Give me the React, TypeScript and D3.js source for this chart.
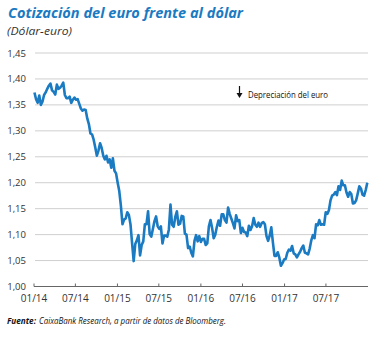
import React from "react";
import * as d3 from "d3";

// Weekly EUR/USD closes (Fridays)
const y2014 = [
  1.374, 1.361, 1.354, 1.368, 1.350,
  1.356, 1.369, 1.374, 1.381,
  1.387, 1.391, 1.378, 1.375,
  1.370, 1.389, 1.381, 1.383,
  1.387, 1.393, 1.369, 1.363, 1.363,
  1.366, 1.354, 1.360, 1.364,
  1.360, 1.361, 1.352, 1.343,
  1.339, 1.341, 1.340, 1.324, 1.313,
  1.295, 1.293, 1.283, 1.268,
  1.252, 1.262, 1.276, 1.267, 1.252,
  1.245, 1.252, 1.239, 1.245,
  1.229, 1.247, 1.223, 1.218,
];
const y2015 = [
  1.200, 1.184, 1.156, 1.120, 1.129,
  1.131, 1.143, 1.138, 1.120,
  1.084, 1.049, 1.082, 1.089,
  1.099, 1.060, 1.080, 1.087,
  1.120, 1.120, 1.145, 1.101, 1.096,
  1.111, 1.126, 1.135, 1.116,
  1.111, 1.116, 1.083, 1.098, 1.098,
  1.096, 1.110, 1.158, 1.119,
  1.115, 1.134, 1.145, 1.119,
  1.121, 1.136, 1.135, 1.102, 1.100,
  1.074, 1.077, 1.065, 1.058,
  1.088, 1.099, 1.087, 1.097,
];
const y2016 = [
  1.086, 1.092, 1.092, 1.080, 1.083,
  1.116, 1.128, 1.113, 1.093,
  1.100, 1.115, 1.127, 1.117,
  1.139, 1.139, 1.128, 1.123, 1.152,
  1.140, 1.131, 1.122, 1.112,
  1.137, 1.126, 1.128, 1.103,
  1.113, 1.105, 1.104, 1.097, 1.117,
  1.109, 1.116, 1.132, 1.119,
  1.115, 1.123, 1.115, 1.122, 1.124,
  1.120, 1.097, 1.088, 1.098,
  1.114, 1.085, 1.059, 1.059,
  1.066, 1.056, 1.040, 1.045, 1.052,
];
const y2017 = [
  1.053, 1.065, 1.071, 1.069,
  1.078, 1.064, 1.062, 1.056,
  1.062, 1.067, 1.074, 1.079, 1.065,
  1.064, 1.062, 1.073, 1.089,
  1.099, 1.093, 1.120, 1.118,
  1.128, 1.119, 1.120, 1.119, 1.143,
  1.140, 1.147, 1.166, 1.175,
  1.177, 1.182, 1.176, 1.193,
  1.186, 1.204, 1.195, 1.195, 1.181,
  1.173, 1.182, 1.178, 1.160,
  1.161, 1.166, 1.179, 1.193,
  1.189, 1.177, 1.175, 1.186, 1.200,
];
const firstWeek = "2014-01-03";

const yTicks = [1.0, 1.05, 1.1, 1.15, 1.2, 1.25, 1.3, 1.35, 1.4, 1.45];
const xTickDates = ["2014-01-01", "2014-07-01", "2015-01-01", "2015-07-01", "2016-01-01", "2016-07-01", "2017-01-01", "2017-07-01"];
const xTickLabels = ["01/14", "07/14", "01/15", "07/15", "01/16", "07/16", "01/17", "07/17"];

const BLUE = "#1a7ac2";
const TEXT = "#333333";
const FONT = "'Open Sans', 'Noto Sans', sans-serif";

export default function App() {
  const values = [...y2014, ...y2015, ...y2016, ...y2017];
  const parse = d3.timeParse("%Y-%m-%d");
  const start = parse(firstWeek) as Date;
  const data = values.map((v, i) => ({ date: d3.timeWeek.offset(start, i), value: v }));

  const x = d3
    .scaleTime()
    .domain([parse("2014-01-01") as Date, parse("2018-01-01") as Date])
    .range([34, 368]);
  const y = d3.scaleLinear().domain([1.0, 1.45]).range([286.5, 53]);

  const line = d3
    .line<{ date: Date; value: number }>()
    .x((d) => x(d.date))
    .y((d) => y(d.value))
    .curve(d3.curveLinear);

  return (
    <svg width={376} height={338} style={{ display: "block", position: "absolute", left: 0, top: 0 }}>
      <rect x={0} y={0} width={376} height={338} fill="#ffffff" />
      <text
        x={8}
        y={18}
        fontFamily={FONT}
        fontSize={15}
        fontWeight="bold"
        fontStyle="italic"
        fill={BLUE}
        textLength={235}
        lengthAdjust="spacingAndGlyphs"
      >
        Cotización del euro frente al dólar
      </text>
      <text
        x={7}
        y={35}
        fontFamily={FONT}
        fontSize={11}
        fontStyle="italic"
        fill={TEXT}
        textLength={65}
        lengthAdjust="spacingAndGlyphs"
      >
        (Dólar-euro)
      </text>

      {yTicks.map((t) => (
        <g key={t}>
          {t > 1.0 && (
            <line x1={35} x2={368} y1={y(t)} y2={y(t)} stroke="#cfcfcf" strokeWidth={1} />
          )}
          <text
            x={26}
            y={y(t) + 3.5}
            textAnchor="end"
            fontFamily={FONT}
            fontSize={9.5}
            fill={TEXT}
          >
            {d3.format(".2f")(t).replace(".", ",")}
          </text>
        </g>
      ))}

      <line x1={34} x2={368} y1={y(1.0)} y2={y(1.0)} stroke="#666666" strokeWidth={1} />
      {xTickDates.map((d, i) => {
        const xp = x(parse(d) as Date);
        return (
          <g key={d}>
            <line x1={xp} x2={xp} y1={y(1.0)} y2={y(1.0) - 3} stroke="#666666" strokeWidth={1} />
            <text
              x={xp}
              y={302}
              textAnchor="middle"
              fontFamily={FONT}
              fontSize={10}
              fill={TEXT}
            >
              {xTickLabels[i]}
            </text>
          </g>
        );
      })}

      <path d={line(data) || ""} fill="none" stroke={BLUE} strokeWidth={2.6} strokeLinejoin="round" />

      {/* annotation */}
      <line x1={239.5} x2={239.5} y1={86} y2={95} stroke="#111" strokeWidth={1.2} />
      <path d="M236.5,93 L239.5,98 L242.5,93 Z" fill="#111" />
      <text
        x={248}
        y={98}
        fontFamily={FONT}
        fontSize={9}
        fill="#111"
        textLength={80}
        lengthAdjust="spacingAndGlyphs"
      >
        Depreciación del euro
      </text>

      <text
        x={7}
        y={324}
        fontFamily={FONT}
        fontSize={9}
        fontStyle="italic"
        fontWeight="bold"
        fill="#111"
        textLength={29}
        lengthAdjust="spacingAndGlyphs"
      >
        Fuente:
      </text>
      <text
        x={39}
        y={324}
        fontFamily={FONT}
        fontSize={9}
        fontStyle="italic"
        fill="#111"
        textLength={187}
        lengthAdjust="spacingAndGlyphs"
      >
        CaixaBank Research, a partir de datos de Bloomberg.
      </text>
    </svg>
  );
}
